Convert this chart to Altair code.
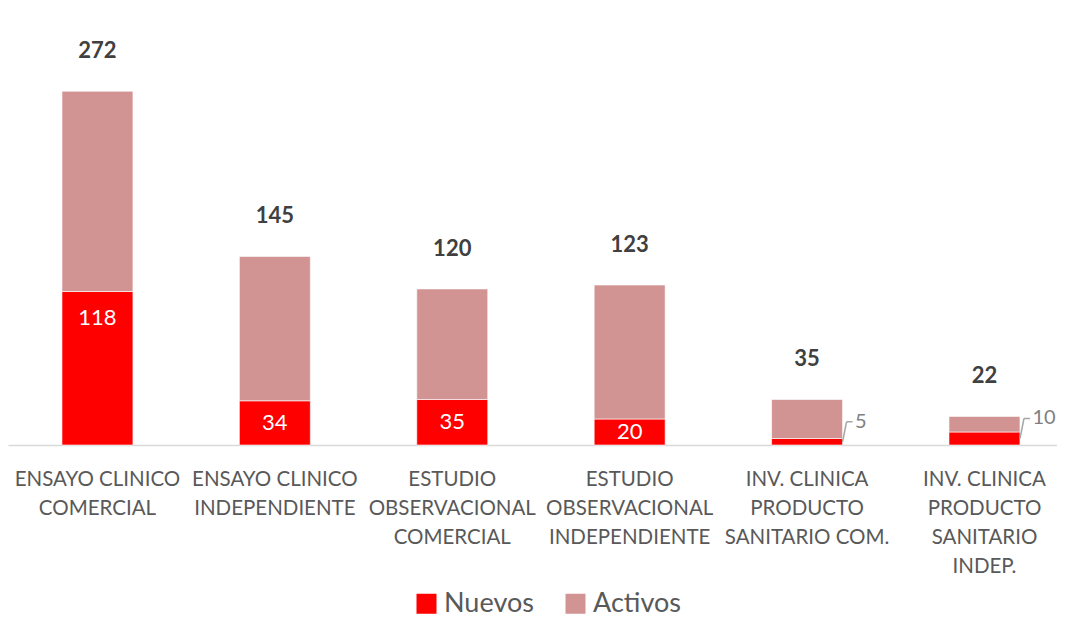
import altair as alt
import pandas as pd

categorias = [
    "ENSAYO CLINICO|COMERCIAL",
    "ENSAYO CLINICO|INDEPENDIENTE",
    "ESTUDIO|OBSERVACIONAL|COMERCIAL",
    "ESTUDIO|OBSERVACIONAL|INDEPENDIENTE",
    "INV. CLINICA|PRODUCTO|SANITARIO COM.",
    "INV. CLINICA|PRODUCTO|SANITARIO|INDEP.",
]
nuevos = [118, 34, 35, 20, 5, 10]
totales = [272, 145, 120, 123, 35, 22]
activos = [t - n for t, n in zip(totales, nuevos)]
series = ["Nuevos", "Activos"]
colores = ["#FF0000", "#D29393"]

largo = pd.DataFrame(
    [{"cat": c, "serie": "Nuevos", "valor": n, "ord": 0} for c, n in zip(categorias, nuevos)]
    + [{"cat": c, "serie": "Activos", "valor": a, "ord": 1} for c, a in zip(categorias, activos)]
)
ancho = pd.DataFrame({"cat": categorias, "nuevos": nuevos, "total": totales})

FONT = "Lato"

xscale = alt.Scale(paddingInner=0.6, paddingOuter=0.2565, align=0.593)
xenc = alt.X(
    "cat:N",
    sort=categorias,
    title=None,
    scale=xscale,
    axis=alt.Axis(
        labelExpr="split(datum.label, '|')",
        labelAngle=0,
        labelFontSize=20.5,
        labelFont=FONT,
        labelColor="#595959",
        labelLineHeight=29,
        labelPadding=24,
        labelLimit=400,
        ticks=False,
        domainColor="#D9D9D9",
        domainWidth=1.5,
        grid=False,
    ),
)
yscale = alt.Scale(domain=[0, 336])

barras = alt.Chart(largo).mark_bar(stroke="white", strokeWidth=1, strokeOpacity=0.6).encode(
    x=xenc,
    y=alt.Y("valor:Q", stack="zero", scale=yscale, axis=None),
    color=alt.Color(
        "serie:N",
        scale=alt.Scale(domain=series, range=colores),
        legend=alt.Legend(
            title=None,
            orient="none",
            legendX=405,
            legendY=582,
            direction="horizontal",
            symbolType="square",
            symbolSize=400,
            symbolStrokeWidth=0,
            symbolOffset=0,
            labelFontSize=27,
            labelFont=FONT,
            labelColor="#595959",
            labelOffset=4,
            columnPadding=28,
            padding=0,
        ),
    ),
    order=alt.Order("ord:Q", sort="ascending"),
)

xs = alt.X("cat:N", sort=categorias, scale=xscale)

tot = alt.Chart(ancho).mark_text(
    dy=-40, fontWeight="bold", fontSize=22, font=FONT, color="#404040"
).encode(x=xs, y=alt.Y("total:Q", scale=yscale), text="total:Q")

dentro = alt.Chart(ancho).transform_filter("datum.nuevos >= 15").transform_calculate(
    ly="max(datum.nuevos - 20, datum.nuevos / 2)"
).mark_text(fontSize=22, font=FONT, color="white").encode(
    x=xs, y=alt.Y("ly:Q", scale=yscale), text="nuevos:Q"
)

fuera_base = alt.Chart(ancho).transform_filter("datum.nuevos < 15").transform_calculate(
    mid="datum.nuevos / 2"
)
guia1 = fuera_base.mark_rule(
    color="#A6A6A6", strokeWidth=1.5, xOffset=35.5, x2Offset=39.5, y2Offset=-20
).encode(
    x=xs,
    x2=alt.X2("cat:N"),
    y=alt.Y("mid:Q", scale=yscale),
    y2=alt.Y2("mid:Q"),
)
guia2 = fuera_base.mark_rule(
    color="#A6A6A6", strokeWidth=1.5, xOffset=39.5, x2Offset=45.5, yOffset=-20
).encode(
    x=xs,
    x2=alt.X2("cat:N"),
    y=alt.Y("mid:Q", scale=yscale),
)
fuera = fuera_base.mark_text(
    align="left", dx=48, dy=-20, fontSize=20, font=FONT, color="#7F7F7F"
).encode(x=xs, y=alt.Y("mid:Q", scale=yscale), text="nuevos:Q")

chart = (
    alt.layer(barras, tot, dentro, guia1, guia2, fuera)
    .properties(width=1049, height=437, padding=0, background="white")
    .configure_view(stroke=None)
)

chart.save("out.html", embed_options={"renderer": "svg", "actions": False})
